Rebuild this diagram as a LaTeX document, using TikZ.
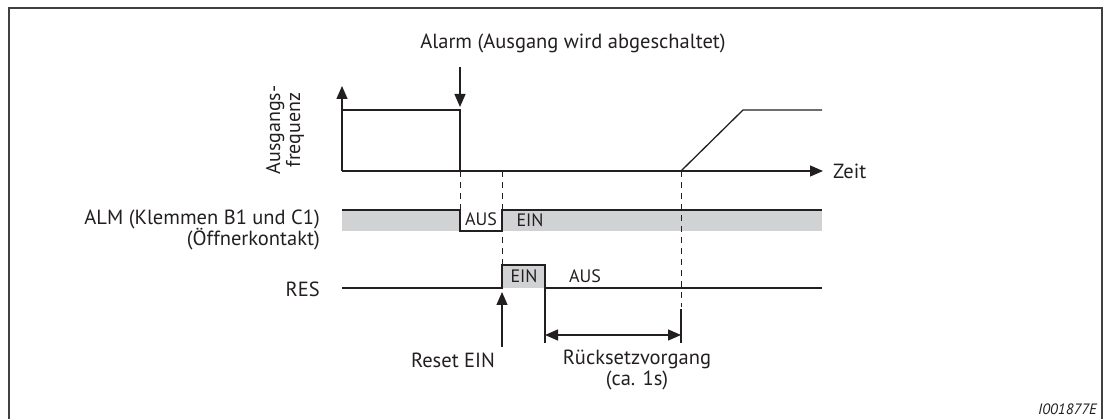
\documentclass[tikz,border=0pt]{standalone}
\usepackage{fontspec}
\setmainfont{PT Sans}
\usetikzlibrary{arrows.meta}
\definecolor{ink}{HTML}{231F20}
\definecolor{band}{HTML}{D1D2D4}
\begin{document}
\begin{tikzpicture}[x=1pt,y=-1pt,
  sig/.style={draw=ink,line width=1.3pt},
  dash line/.style={draw=ink,line width=1pt,dash pattern=on 6pt off 5pt},
  tri/.style={-{Triangle[length=13pt,width=11pt]}},
  lbl/.style={inner sep=0pt,font=\fontsize{20.5}{22}\selectfont,text=ink},
  state/.style={inner sep=0pt,font=\fontsize{18}{20}\selectfont,text=ink},
  small/.style={inner sep=0pt,font=\fontsize{15}{17}\selectfont\itshape,text=ink}]
\useasboundingbox (0,0) rectangle (1106,419);
% frame
\draw[line width=1.8pt,draw=black!75] (9,425) -- (9,8) -- (1102,8) -- (1102,425);
% coordinates
\coordinate (O) at (342,171);
\coordinate (Ytip) at (342,86);
\coordinate (Xtip) at (823,171);
\coordinate (Al) at (460,171);
\coordinate (Rs) at (502,171);
\coordinate (Re) at (681,171);
% gray areas
\fill[band] (342,210) rectangle (460,231);
\fill[band] (502,210) rectangle (822,231);
\fill[band] (502,265) rectangle (545,288);
% axes
\draw[sig,tri] (O) -- (Ytip);
\draw[sig,tri] (O) -- (Xtip);
\node[lbl,anchor=west] (zeit) at (833,171) {Zeit};
\node[lbl,rotate=90,align=center,font=\fontsize{20}{20}\selectfont] (freq) at (285,130) {Ausgangs-\\frequenz};
% output frequency
\draw[sig] (342,110) -- (460,110) -- (Al);
\draw[sig] (Re) -- (743,110) -- (822,110);
% alarm arrow
\node[lbl] (alarm) at (573,43) {Alarm (Ausgang wird abgeschaltet)};
\coordinate (alA) at (460,67);
\coordinate (alB) at (460,107);
\draw[sig,tri] (alA) -- (alB);
% dashed lines
\draw[dash line] (Al) -- (460,210);
\draw[dash line] (Rs) -- (502,265);
\draw[dash line] (Re) -- (681,307);
% ALM signal
\draw[sig] (342,210) -- (460,210) -- (460,231) -- (502,231) -- (502,210) -- (822,210);
\node[state] (aus1) at (481,219) {AUS};
\node[state] (ein1) at (530,220) {EIN};
\node[lbl,anchor=east] (alm) at (320,219) {ALM (Klemmen B1 und C1)};
\node[lbl,anchor=east] (oeff) at (320,239) {(Öffnerkontakt)};
% RES signal
\draw[sig] (342,288) -- (502,288) -- (502,265) -- (545,265) -- (545,343);
\draw[sig] (545,288) -- (822,288);
\node[state] (ein2) at (524,276) {EIN};
\node[state] (aus2) at (585,276) {AUS};
\node[lbl,anchor=east] (res) at (320,289) {RES};
% reset arrow
\coordinate (rA) at (502,347);
\coordinate (rB) at (502,292);
\draw[sig,tri] (rA) -- (rB);
\node[lbl] (reset) at (453,360) {Reset EIN};
% reset time
\draw[sig] (681,309) -- (681,343);
\coordinate (dA) at (545,335);
\coordinate (dB) at (681,335);
\draw[sig,{Triangle[length=13pt,width=11pt]}-{Triangle[length=13pt,width=11pt]}] (dA) -- (dB);
\node[lbl] (rueck) at (637,359) {Rücksetzvorgang};
\node[lbl] (ca) at (637,380) {(ca. 1s)};
% id
\node[small,anchor=east] (id) at (1097,409) {I001877E};
\end{tikzpicture}
\end{document}
